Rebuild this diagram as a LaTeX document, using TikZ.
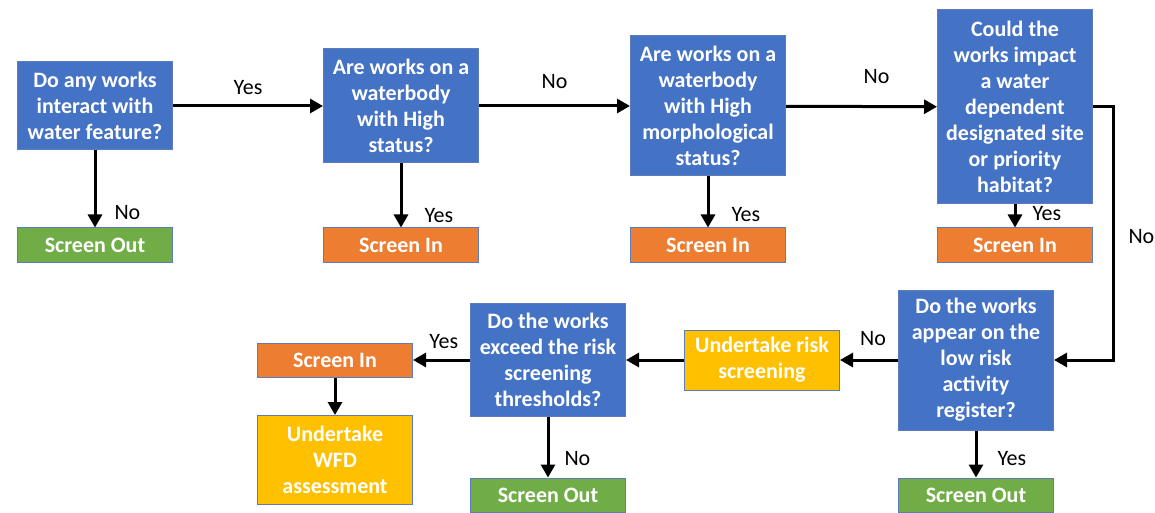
\documentclass[tikz,border=0pt]{standalone}
\usepackage{fontspec}
\setmainfont{Carlito}
\usepackage{xcolor}
\usetikzlibrary{arrows.meta}

\definecolor{qBlue}{HTML}{4472C4}
\definecolor{outGreen}{HTML}{70AD47}
\definecolor{inOrange}{HTML}{ED7D31}
\definecolor{taskYellow}{HTML}{FFC000}
\definecolor{edgeBlue}{HTML}{5B7DBA}

\begin{document}
\begin{tikzpicture}[x=0.5pt,y=-0.5pt]
%% CONFIG
% Width of every box
\def\boxW{77.5pt}
% Height of a screen box
\def\screenH{17pt}
\def\fontS{\fontsize{11}{13}\selectfont}

\tikzset{
    box/.style={draw=edgeBlue, line width=0.5pt, minimum width=\boxW, inner sep=0pt,
        align=center, text=white, font=\fontS\bfseries},
    question/.style={box, fill=qBlue},
    screenOut/.style={box, fill=outGreen, minimum height=\screenH},
    screenIn/.style={box, fill=inOrange, minimum height=\screenH},
    task/.style={box, fill=taskYellow},
    flow/.style={-{Triangle[length=6.5pt,width=7pt]}, line width=1.5pt},
    lbl/.style={font=\fontS, text=black, inner sep=2pt}
}

\useasboundingbox (0,0) rectangle (1155,513);

% Draw the top row of questions
\node[question, minimum height=44pt] (q1) at (95,106) {Do any works\\interact with\\water feature?};
\node[question, minimum height=57pt] (q2) at (401,106) {Are works on a\\waterbody\\with High\\status?};
\node[question, minimum height=70pt] (q3) at (708,106) {Are works on a\\waterbody\\with High\\morphological\\status?};
\node[question, minimum height=97pt] (q4) at (1015,107) {Could the\\works impact\\a water\\dependent\\designated site\\or priority\\habitat?};

% Draw the outcomes of the top row
\node[screenOut] (out1) at (95,245) {Screen Out};
\node[screenIn] (in2) at (401,245) {Screen In};
\node[screenIn] (in3) at (708,245) {Screen In};
\node[screenIn] (in4) at (1015,245) {Screen In};

% Draw the bottom row
\node[question, minimum height=70pt] (q5) at (976,360) {Do the works\\appear on the\\low risk\\activity\\register?};
\node[task, minimum height=30pt] (risk) at (762,360) {Undertake risk\\screening};
\node[question, minimum height=56.5pt] (q6) at (548,360) {Do the works\\exceed the risk\\screening\\thresholds?};
\node[screenIn] (in7) at (335,360) {Screen In};
\node[task, minimum height=44.5pt] (wfd) at (335,460) {Undertake\\WFD\\assessment};
\node[screenOut] (out6) at (548,495) {Screen Out};
\node[screenOut] (out5) at (976,495) {Screen Out};

% Connectors along the top row
\draw[flow] (q1) -- node[lbl, above=3pt] {Yes} (q2);
\draw[flow] (q2) -- node[lbl, above=6pt] {No} (q3);
\draw[flow] (q3) -- node[lbl, above=8.5pt, pos=0.6] {No} (q4);

% Connectors down to the outcomes
\draw[flow] (q1) -- node[lbl, right=7pt, pos=0.81] {No} (out1);
\draw[flow] (q2) -- node[lbl, right=9pt, pos=0.81] {Yes} (in2);
\draw[flow] (q3) -- node[lbl, right=9pt, pos=0.75] {Yes} (in3);
\draw[flow] (q4) -- node[lbl, right=6pt, pos=0.38] {Yes} (in4);

%%% Draw the link down to the bottom row
\coordinate (bendNo) at (1113,107);
\draw[flow] (q4.east) -- (bendNo) |- node[lbl, right=5pt, pos=0.255] {No} (q5.east);

% Connectors along the bottom row
\draw[flow] (q5) -- node[lbl, above=4.5pt, pos=0.43] {No} (risk);
\draw[flow] (risk) -- (q6);
\draw[flow] (q6) -- node[lbl, above=3pt, pos=0.46] {Yes} (in7);
\draw[flow] (in7) -- (wfd);
\draw[flow] (q6) -- node[lbl, right=5.5pt, pos=0.69] {No} (out6);
\draw[flow] (q5) -- node[lbl, right=8pt, pos=0.6] {Yes} (out5);

\end{tikzpicture}
\end{document}
